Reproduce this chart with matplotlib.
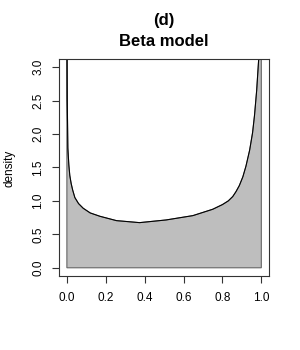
"""
Beta model density, panel (d)
"""

import matplotlib
matplotlib.use("Agg")
import matplotlib.pyplot as plt

# points (x, density)
x_vals = [0.0, 0.0005, 0.002, 0.005, 0.01, 0.015, 0.022, 0.03, 0.041,
          0.06, 0.084, 0.12, 0.17, 0.255, 0.374, 0.51, 0.648, 0.75,
          0.80, 0.83, 0.853, 0.87, 0.887, 0.905, 0.921, 0.94, 0.955,
          0.965, 0.976, 0.986, 0.99]
density = [3.6, 3.3, 2.5, 1.79, 1.54, 1.38, 1.26, 1.16, 1.05,
           0.96, 0.89, 0.82, 0.77, 0.705, 0.675, 0.715, 0.78, 0.875,
           0.945, 1.0, 1.065, 1.14, 1.23, 1.36, 1.52, 1.76, 2.02,
           2.28, 2.65, 3.1, 3.4]

x_ticks = [0.0, 0.2, 0.4, 0.6, 0.8, 1.0]
y_ticks = [0.0, 0.5, 1.0, 1.5, 2.0, 2.5, 3.0]

FONT = "Liberation Sans"


def main():
    plt.rcParams["font.family"] = FONT

    fig = plt.figure(figsize=(3, 3.5), dpi=100)
    ax = fig.add_axes([0.197, 0.212, 0.70, 0.619])

    # shaded polygon under the curve, closed down to zero at both ends
    poly_x = [0.0] + x_vals + [1.0, 1.0]
    poly_y = [0.0] + density + [3.6, 0.0]
    ax.fill(poly_x, poly_y, facecolor="#bebebe", edgecolor="#666666",
            linewidth=0.8)
    ax.plot(x_vals, density, color="black", linewidth=0.75,
            solid_joinstyle="round")

    ax.set_xlim(-0.04, 1.04)
    ax.set_ylim(-0.12, 3.12)
    ax.set_xticks(x_ticks)
    ax.set_yticks(y_ticks)
    ax.set_xticklabels([f"{v:.1f}" for v in x_ticks])
    ax.set_yticklabels([f"{v:.1f}" for v in y_ticks], rotation=90,
                       va="center")

    ax.tick_params(direction="out", length=5, width=0.8, labelsize=8.5,
                   color="#333333")
    ax.tick_params(axis="x", pad=6.5)
    ax.tick_params(axis="y", pad=5.5)
    for spine in ax.spines.values():
        spine.set_linewidth(0.8)
        spine.set_color("#333333")

    fig.text(9 / 300, 1 - 168 / 350, "density", rotation=90,
             ha="center", va="center", fontsize=8.5)
    fig.text(164 / 300, 1 - 21 / 350, "(d)", ha="center", va="center",
             fontsize=12, fontweight="bold")
    fig.text(164 / 300, 1 - 41 / 350, "Beta model", ha="center",
             va="center", fontsize=12, fontweight="bold")

    fig.savefig("out.png", dpi=100)
    plt.close(fig)


if __name__ == "__main__":
    main()
